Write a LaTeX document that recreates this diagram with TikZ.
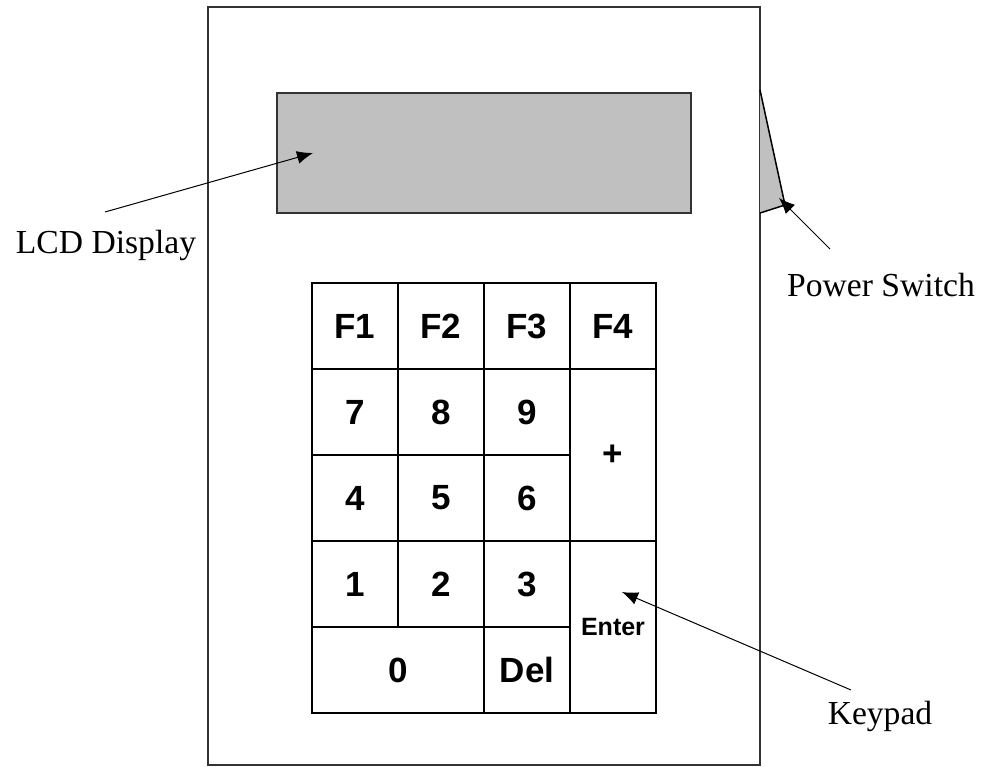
\documentclass[tikz,border=0pt]{standalone}
\usepackage{fontspec}
\setmainfont{Liberation Serif}
\newfontfamily\keyfont{Liberation Sans}
\usetikzlibrary{arrows.meta, positioning}
\definecolor{CaseGray}{HTML}{333333}
\definecolor{PanelGray}{HTML}{C0C0C0}

\begin{document}
\begin{tikzpicture}[x=0.5pt, y=-0.5pt,
    key/.style={draw, line width=0.75pt, minimum width=43pt, minimum height=43pt, inner sep=0pt, font=\keyfont\bfseries\fontsize{17.5}{20}\selectfont},
    widekey/.style={key, minimum width=86pt},
    tallkey/.style={key, minimum height=86pt},
    callout/.style={font=\fontsize{16.8}{20}\selectfont},
    pointer/.style={-{Latex[length=8pt, width=6.5pt]}, line width=0.5pt}]
    \useasboundingbox (0,0) rectangle (988,766);

    % --- CASE ---
    \draw[CaseGray, line width=1.2pt] (208,7) rectangle (760,765);

    % LCD panel
    \draw[fill=PanelGray, draw=CaseGray, line width=0.75pt] (277,93) rectangle (691,213);
    \coordinate (lcdtip) at (313,153);

    % Power switch (side tab)
    \draw[fill=PanelGray, line width=0.75pt] (760,90) -- (785,205) -- (760,213);
    \coordinate (switchtip) at (779,198);

    % --- KEYPAD ---
    \node[key] (f1) at (355,326) {F1};
    \node[key] (f2) at (441,326) {F2};
    \node[key] (f3) at (527,326) {F3};
    \node[key] (f4) at (613,326) {F4};

    \node[key] (k7) at (355,412) {7};
    \node[key] (k8) at (441,412) {8};
    \node[key] (k9) at (527,412) {9};
    \node[tallkey] (plus) at (613,455) {+};

    \node[key] (k4) at (355,498) {4};
    \node[key] (k5) at (441,498) {5};
    \node[key] (k6) at (527,498) {6};

    \node[key] (k1) at (355,584) {1};
    \node[key] (k2) at (441,584) {2};
    \node[key] (k3) at (527,584) {3};
    \node[tallkey, font=\keyfont\bfseries\fontsize{12.5}{15}\selectfont] (enter) at (613,627) {Enter};

    \node[widekey] (k0) at (398,670) {0};
    \node[key] (del) at (527,670) {Del};
    \coordinate (keytip) at (622,592);

    % --- CALLOUTS ---
    \node[callout] (lcdlabel) at (106,245) {LCD Display};
    \node[callout] (switchlabel) at (881,285) {Power Switch};
    \node[callout] (keylabel) at (880,716) {Keypad};

    \coordinate (lcdfrom) at (105,212);
    \coordinate (switchfrom) at (830,249);
    \coordinate (keyfrom) at (851,690);
    \draw[pointer] (lcdfrom) -- (lcdtip);
    \draw[pointer] (switchfrom) -- (switchtip);
    \draw[pointer] (keyfrom) -- (keytip);
\end{tikzpicture}
\end{document}
